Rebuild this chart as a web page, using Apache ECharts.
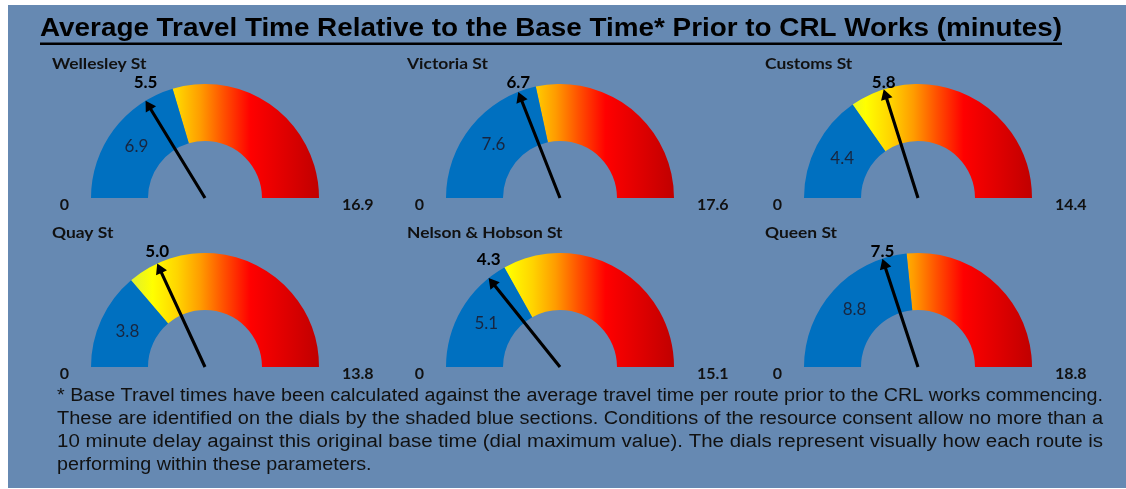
<!DOCTYPE html>
<html>
<head>
<meta charset="utf-8">
<title>Average Travel Time Relative to the Base Time</title>
<script src="https://cdn.jsdelivr.net/npm/echarts@6/dist/echarts.min.js"></script>
<style>
  html, body { margin: 0; padding: 0; background: #ffffff; }
  .panel { position: absolute; left: 8px; top: 5px; width: 1118px; height: 483px; background: #6689b2; }
  #chart { position: absolute; left: 0; top: 0; width: 1126px; height: 489px; }
</style>
</head>
<body>
<div class="panel"></div>
<div id="chart"></div>
<script>
const routes = ["Wellesley St", "Victoria St", "Customs St", "Quay St", "Nelson & Hobson St", "Queen St"];
const baseTimes = [6.9, 7.6, 4.4, 3.8, 5.1, 8.8];        // shaded blue section
const currentTimes = [5.5, 6.7, 5.8, 5.0, 4.3, 7.5];     // needle
const dialMin = [0, 0, 0, 0, 0, 0];
const dialMax = [16.9, 17.6, 14.4, 13.8, 15.1, 18.8];    // base + 10 min

const titleText = "Average Travel Time Relative to the Base Time* Prior to CRL Works (minutes)";
const footLines = [
  "* Base Travel times have been calculated against the average travel time per route prior to the CRL works commencing.",
  "These are identified on the dials by the shaded blue sections. Conditions of the resource consent allow no more than a",
  "10 minute delay against this original base time (dial maximum value). The dials represent visually how each route is",
  "performing within these parameters."
];

// layout of the 3 x 2 grid of dials
const colX = [205, 560, 918];
const rowY = [198, 367];
const R = 114;
const ringW = 57;

const labelFont = "Lato";
const noteFont = "'Liberation Sans', Arial, sans-serif";

// arrow needle, tip at the top of the box
const arrowPath = "path://M5,0 L10,9 L6.3,9 L6.3,100 L3.7,100 L3.7,9 L0,9 Z";

function redZone(cx) {
  return {
    type: "linear",
    x: cx - R, y: 0, x2: cx + R, y2: 0,
    global: true,
    colorStops: [
      { offset: 0.15, color: "#d6ec3c" },
      { offset: 0.27, color: "#ffff00" },
      { offset: 0.38, color: "#ffd400" },
      { offset: 0.48, color: "#ff9c00" },
      { offset: 0.58, color: "#ff5200" },
      { offset: 0.70, color: "#ff0000" },
      { offset: 1, color: "#c00000" },
    ],
  };
}

function dial(i) {
  const cx = colX[i % 3];
  const cy = rowY[Math.floor(i / 3)];
  const span = dialMax[i] - dialMin[i];
  const baseFrac = (baseTimes[i] - dialMin[i]) / span;
  const needleAng = Math.PI * (currentTimes[i] - dialMin[i]) / span; // from the left
  const midAng = Math.PI * baseFrac / 2;
  const rMid = R - ringW / 2;
  return {
    type: "gauge",
    center: [cx, cy],
    radius: R,
    startAngle: 180,
    endAngle: 0,
    min: dialMin[i],
    max: dialMax[i],
    splitNumber: 1,
    axisLine: {
      lineStyle: {
        width: ringW,
        color: [
          [baseFrac, "#0070c0"],
          [1, redZone(cx)],
        ],
      },
    },
    splitLine: { show: false },
    axisTick: { show: false },
    axisLabel: { show: false },
    pointer: {
      icon: arrowPath,
      length: R,
      width: 12,
      itemStyle: { color: "#000000" },
    },
    anchor: { show: false },
    // base value sits in the middle of the blue section
    title: {
      offsetCenter: [-rMid * Math.cos(midAng), -rMid * Math.sin(midAng)],
      color: "#172640",
      fontSize: 17,
      fontFamily: labelFont,
    },
    // needle value above the arrow tip
    detail: {
      offsetCenter: [-R * Math.cos(needleAng), Math.max(-R * Math.sin(needleAng) - 19, -115)],
      formatter: (v) => v.toFixed(1),
      color: "#000000",
      fontSize: 17,
      fontWeight: "bold",
      fontFamily: labelFont,
    },
    data: [{ value: currentTimes[i], name: baseTimes[i].toFixed(1) }],
  };
}

// text widths, used to stretch title and note to the picture's width
const measure = document.createElement("canvas").getContext("2d");
function textWidth(font, s) {
  measure.font = font;
  return measure.measureText(s).width;
}

const titleFont = "bold 25px " + noteFont;
const titleLeft = 40, titleRight = 1062;
const titleScale = (titleRight - titleLeft) / textWidth(titleFont, titleText);

const graphics = [
  {
    type: "text",
    x: (titleLeft + titleRight) / 2, y: 29,
    scaleX: titleScale,
    style: { text: titleText, align: "center", verticalAlign: "middle", font: titleFont, fill: "#000000" },
  },
  {
    type: "rect",
    shape: { x: titleLeft, y: 42.5, width: titleRight - titleLeft, height: 2.5 },
    style: { fill: "#000000" },
  },
];

routes.forEach((name, i) => {
  const cx = colX[i % 3];
  const cy = rowY[Math.floor(i / 3)];
  graphics.push(
    {
      type: "text",
      x: cx - 153, y: cy - 134,
      scaleX: 1.16,
      style: { text: name, align: "left", verticalAlign: "middle", font: "bold 15px " + labelFont, fill: "#111111" },
    },
    {
      type: "text",
      x: cx - 136, y: cy + 7,
      style: { text: String(dialMin[i]), align: "right", verticalAlign: "middle", font: "bold 16px " + labelFont, fill: "#111111" },
    },
    {
      type: "text",
      x: cx + 137, y: cy + 7,
      style: { text: dialMax[i].toFixed(1), align: "left", verticalAlign: "middle", font: "bold 16px " + labelFont, fill: "#111111" },
    }
  );
});

// note block is justified: full lines fill 57..1103, last line keeps the first line's stretch
const noteFont17 = "18px " + noteFont;
const noteLeft = 57, noteRight = 1103;
const firstScale = (noteRight - noteLeft) / textWidth(noteFont17, footLines[0]);
footLines.forEach((line, k) => {
  const last = k === footLines.length - 1;
  const sx = last ? firstScale : (noteRight - noteLeft) / textWidth(noteFont17, line);
  graphics.push({
    type: "text",
    x: noteLeft, y: 396 + k * 23,
    scaleX: sx,
    style: { text: line, align: "left", verticalAlign: "middle", font: noteFont17, fill: "#111111" },
  });
});

const chart = echarts.init(document.getElementById("chart"));
chart.setOption({
  backgroundColor: "transparent",
  animation: false,
  series: routes.map((_, i) => dial(i)),
  graphic: graphics,
});
</script>
</body>
</html>
